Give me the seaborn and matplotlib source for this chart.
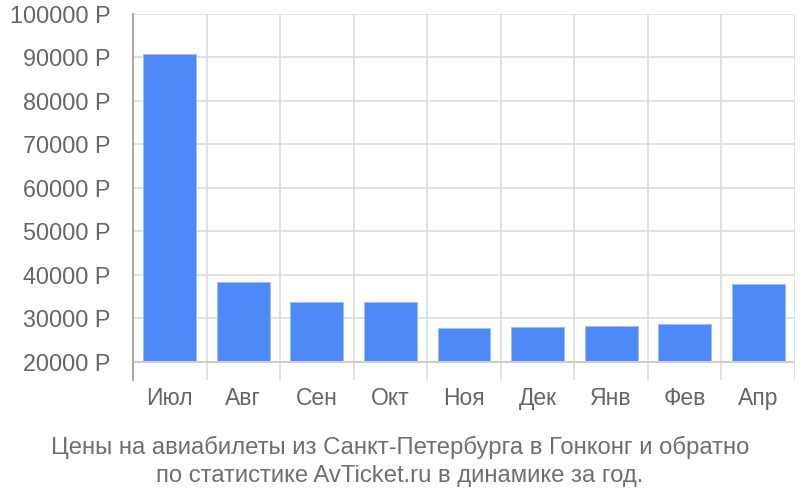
import pandas as pd
import seaborn as sns
import matplotlib.pyplot as plt

months = ["Июл", "Авг", "Сен", "Окт", "Ноя", "Дек", "Янв", "Фев", "Апр"]
prices = [90800, 38400, 33800, 33800, 27800, 28050, 28250, 28700, 37950]
y_ticks = [20000, 30000, 40000, 50000, 60000, 70000, 80000, 90000, 100000]
base = 20000

caption = ("Цены на авиабилеты из Санкт-Петербурга в Гонконг и обратно\n"
           "по статистике AvTicket.ru в динамике за год.")

sns.set_style("white")
plt.rcParams["font.family"] = ["Liberation Sans", "DejaVu Sans"]

df = pd.DataFrame({"month": months, "height": [p - base for p in prices]})

fig = plt.figure(figsize=(8, 5), dpi=100)
ax = fig.add_axes([0.16625, 0.24, 0.8275, 0.732])

sns.barplot(data=df, x="month", y="height", color="#4d89f9", saturation=1,
            width=0.72, bottom=base, edgecolor="#9dbdf7", linewidth=0.6,
            ax=ax, zorder=3)

ax.set_ylim(15860, 100000)
ax.set_xlim(-0.5, len(months) - 0.5)
ax.set_yticks(y_ticks)
ax.set_yticklabels([f"{t} Р" for t in y_ticks])
ax.set_xlabel("")
ax.set_ylabel("")

# horizontal grid + vertical separators between months
for t in y_ticks:
    ax.axhline(t, color="#dddddd", lw=1.2, zorder=1)
for i in range(len(months) + 1):
    ax.axvline(i - 0.5, color="#dddddd", lw=1.2, zorder=1)
ax.axhline(base, color="#cccccc", lw=1.5, zorder=4)

for s in ["top", "right", "bottom"]:
    ax.spines[s].set_visible(False)
ax.spines["left"].set_color("#aaaaaa")
ax.spines["left"].set_linewidth(1.5)
ax.spines["left"].set_zorder(5)

ax.tick_params(axis="y", length=16, width=1.2, color="#dddddd", pad=0,
               labelsize=16.8, labelcolor="#666666")
ax.tick_params(axis="x", length=0, pad=5, labelsize=16.5, labelcolor="#666666")

fig.text(0.5, 0.077, caption, ha="center", va="center", fontsize=17.2,
         color="#6f6f6f", linespacing=1.32)

fig.savefig("out.png", dpi=100)
